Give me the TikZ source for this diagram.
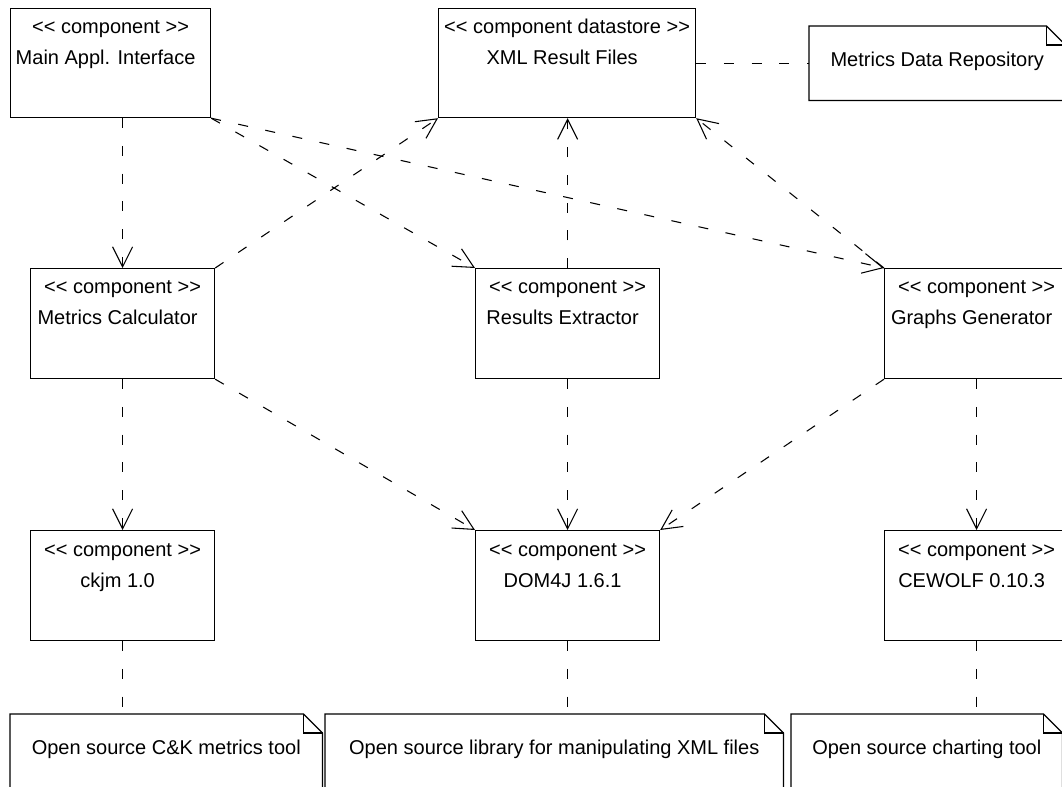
\documentclass[tikz,border=0pt]{standalone}
\usepackage{fontspec}
\setmainfont{Liberation Sans}[Ligatures=TeXOff]
\usetikzlibrary{arrows.meta}
% one drawing unit
\newlength\pxu
\setlength\pxu{0.75pt}
\begin{document}
\begin{tikzpicture}[x=0.75pt,y=-0.75pt,
  font=\fontsize{15}{18}\selectfont,
  every node/.style={inner sep=0pt},
  compbox/.style={draw, line width=0.9pt, anchor=north west,
    minimum width=184\pxu, minimum height=110\pxu},
  notebox/.style={anchor=north west, minimum height=74\pxu},
  txt/.style={anchor=base},
  dep/.style={line width=0.8pt, dash pattern=on 7.5pt off 13.3pt},
  uses/.style={dep, -{Straight Barb[length=15pt,width=15pt,line width=0.8pt]}}
]
\fill[white] (0,0) rectangle (1062,787);
\clip (0,0) rectangle (1062,787);

% components
\node[compbox, minimum width=200\pxu, minimum height=109\pxu] (mai) at (10,8) {};
\node[compbox, minimum width=257\pxu, minimum height=109\pxu] (xml) at (438,8) {};
\node[compbox] (mc)  at (30,268) {};
\node[compbox] (re)  at (475,268) {};
\node[compbox] (gg)  at (884,268) {};
\node[compbox] (ck)  at (30,530) {};
\node[compbox] (dom) at (475,530) {};
\node[compbox] (cew) at (884,530) {};

\foreach \b/\s/\t in {
  mai/component/Main Appl. Interface,
  xml/component datastore/XML Result Files,
  mc/component/Metrics Calculator,
  re/component/Results Extractor,
  gg/component/Graphs Generator,
  ck/component/ckjm 1.0,
  dom/component/DOM4J 1.6.1,
  cew/component/CEWOLF 0.10.3} {
  \node[txt] at ([yshift=-26\pxu]\b.north) {<< \s\ >>};
  \node[txt] at ([xshift=-5\pxu,yshift=-57\pxu]\b.north) {\t};
}

% notes
\node[notebox, minimum width=256\pxu] (mdr) at (809,26) {};
\node[notebox, minimum width=312\pxu] (n1) at (10,714) {};
\node[notebox, minimum width=458\pxu] (n2) at (325,714) {};
\node[notebox, minimum width=271\pxu] (n3) at (791,714) {};

\foreach \n in {mdr,n1,n2,n3} {
  \draw[line width=0.9pt] (\n.north west) -- ([xshift=-19\pxu]\n.north east)
    -- ([yshift=-19\pxu]\n.north east) -- (\n.south east) -- (\n.south west) -- cycle;
  \draw[line width=0.8pt] ([xshift=-19\pxu]\n.north east) |- ([yshift=-19\pxu]\n.north east);
}

\foreach \n/\t in {
  mdr/Metrics Data Repository,
  n1/Open source C\&K metrics tool,
  n2/Open source library for manipulating XML files,
  n3/Open source charting tool} {
  \node[txt] at ([yshift=-40.5\pxu]\n.north) {\t};
}

% dependencies
\draw[uses] (mai.south -| mc.north) -- (mc.north);
\draw[uses] (mai.south east) -- (re.north west);
\draw[uses] (mai.south east) -- (gg.north west);
\draw[uses] (mc.north east) -- (xml.south west);
\draw[uses] (re.north) -- (re.north |- xml.south);
\draw[uses] (gg.north west) -- (xml.south east);
\draw[uses] (mc.south) -- (ck.north);
\draw[uses] (mc.south east) -- (dom.north west);
\draw[uses] (re.south) -- (dom.north);
\draw[uses] (gg.south west) -- (dom.north east);
\draw[uses] (gg.south) -- (cew.north);

% note attachments
\draw[dep] (xml.east) -- (xml.east -| mdr.west);
\draw[dep] (ck.south) -- (ck.south |- n1.north);
\draw[dep] (dom.south) -- (dom.south |- n2.north);
\draw[dep] (cew.south) -- (cew.south |- n3.north);
\end{tikzpicture}
\end{document}
